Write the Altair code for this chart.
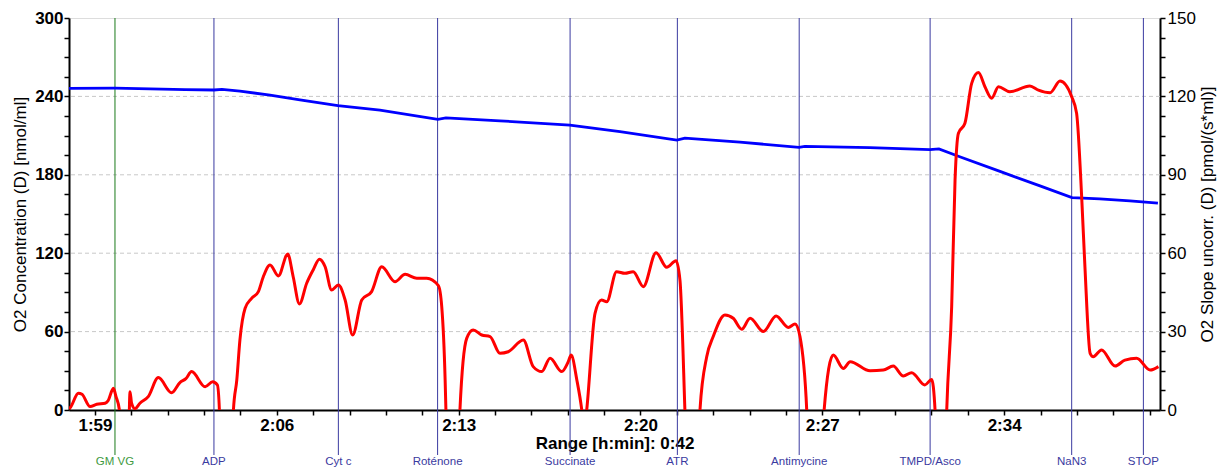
import altair as alt
import pandas as pd

# ---- data ----
o2_time = [118.00, 119.77, 121.12, 122.47, 123.58, 123.89, 124.58, 125.74, 126.89, 128.35,
           129.97, 132.20, 132.51, 134.59, 137.28, 139.21, 141.40, 141.71, 143.83, 146.10,
           146.33, 148.83, 151.14, 151.49, 152.29, 153.84, 155.38, 156.61, 157.68, 158.84, 159.92]
o2_conc = [246.2, 246.3, 245.8, 245.2, 244.9, 245.3, 244.0, 241.0, 237.3, 233.0,
           229.5, 222.5, 223.5, 221.3, 218.0, 213.0, 206.5, 208.0, 205.0, 201.0,
           201.8, 200.8, 199.2, 199.8, 193.8, 182.6, 171.5, 162.5, 161.5, 160.0, 158.3]

slope_time = [118.00, 118.04, 118.36, 118.50, 118.81, 119.07, 119.39, 119.50, 119.71, 119.81,
              119.94, 120.00, 120.27, 120.35, 120.41, 120.54, 120.73, 121.05, 121.44, 121.95,
              122.27, 122.50, 122.72, 123.24, 123.53, 123.71, 123.79, 123.85, 124.24, 124.33,
              124.46, 124.58, 124.78, 125.03, 125.29, 125.48, 125.74, 126.06, 126.42, 126.63,
              126.87, 127.15, 127.40, 127.64, 127.86, 128.11, 128.37, 128.63, 128.92, 129.27,
              129.65, 130.04, 130.55, 130.94, 131.39, 131.77, 132.22, 132.35, 132.48, 132.51,
              132.59, 132.98, 133.05, 133.31, 133.56, 133.89, 134.21, 134.59, 134.91, 135.49,
              135.87, 136.20, 136.52, 136.97, 137.22, 137.33, 137.55, 137.74, 137.83, 137.93,
              138.25, 138.50, 138.70, 139.08, 139.40, 139.72, 140.11, 140.60, 141.01, 141.37,
              141.52, 141.71, 141.79, 142.21, 142.29, 142.55, 142.80, 143.25, 143.57, 143.90,
              144.22, 144.73, 145.22, 145.69, 145.95, 146.14, 146.40, 146.49, 146.95, 147.07,
              147.42, 147.81, 148.07, 148.84, 149.35, 149.73, 150.12, 150.44, 150.95, 151.21,
              151.34, 151.42, 151.72, 151.79, 151.98, 152.11, 152.24, 152.49, 152.75, 153.01,
              153.26, 153.52, 153.78, 154.22, 154.99, 155.32, 155.77, 156.15, 156.60, 156.79,
              156.99, 157.11, 157.31, 157.43, 157.75, 158.27, 158.65, 159.10, 159.62, 159.94]
slope_val = [0.5, 0.8, 6.4, 6.0, 1.3, 2.2, 2.6, 3.5, 8.3, 5.1,
             0.0, -20, -20, 7.0, 2.6, 0.5, 2.6, 5.1, 12.4, 6.6,
             10.5, 12.0, 14.7, 8.9, 10.8, 9.6, 0.0, -25, -25, 0.0,
             11.5, 26.8, 38.9, 42.7, 45.3, 51.0, 55.5, 51.3, 59.7, 51.0,
             40.6, 48.5, 53.6, 57.7, 54.8, 45.9, 47.8, 42.1, 28.7, 42.1,
             45.3, 54.8, 49.1, 51.9, 50.4, 50.4, 47.6, 39.5, 11.5, 0.0,
             -25, -25, 0.0, 27.4, 30.6, 28.7, 28.1, 21.7, 22.3, 26.8,
             16.6, 14.7, 19.8, 14.7, 18.5, 21.0, 11.5, 0.0, -8, 0.0,
             37.0, 42.1, 41.4, 52.9, 52.3, 52.9, 47.2, 60.2, 54.6, 57.1,
             49.7, 0.0, -25, -25, 0.0, 20.4, 28.1, 36.4, 35.1, 30.9,
             35.1, 30.0, 36.0, 31.6, 32.9, 28.1, 0.0, -25, -25, 0.0,
             21.0, 15.9, 18.5, 15.0, 15.3, 16.8, 13.0, 14.3, 9.6, 11.7,
             0.0, -25, -25, 0.0, 39.5, 88.0, 105.9, 109.7, 125.0, 129.1,
             123.7, 119.3, 123.7, 121.8, 124.0, 122.4, 121.4, 125.9, 119.9, 113.5,
             80.4, 54.8, 21.7, 20.4, 23.0, 16.8, 19.1, 19.8, 15.3, 16.6]

event_names = ["GM VG", "ADP", "Cyt c", "Roténone", "Succinate", "ATR",
               "Antimycine", "TMPD/Asco", "NaN3", "STOP"]
event_time = [119.77, 123.58, 128.37, 132.19, 137.29, 141.42, 146.11, 151.15, 156.60, 159.36]

x_domain = [118, 160]
left_domain = [0, 300]
right_domain = [0, 150]
grid_levels = [60, 120, 180, 240]

# ---- tables ----
o2_df = pd.DataFrame({"t": o2_time, "conc": o2_conc})
slope_df = pd.DataFrame({"t": slope_time, "slope": slope_val})
ev_df = pd.DataFrame({"event": event_names, "t": event_time})
grid_df = pd.DataFrame({"g": grid_levels})

FONT = "Liberation Sans"
W, H = 1091, 392

x_ticks = [round(119 + 1.4 * k, 2) for k in range(30) if 119 + 1.4 * k <= 160]
left_ticks = list(range(0, 301, 15))
right_ticks = [7.5 * k for k in range(21)]

xscale = alt.Scale(domain=x_domain, nice=False, zero=False)
lscale = alt.Scale(domain=left_domain, nice=False, zero=False)
rscale = alt.Scale(domain=right_domain, nice=False, zero=False)

x_axis = alt.Axis(
    values=x_ticks,
    labelExpr="abs(datum.value - round(datum.value)) < 0.01 && (round(datum.value) - 119) % 7 == 0 ? floor(round(datum.value)/60) + ':' + (round(datum.value) % 60 < 10 ? '0' : '') + (round(datum.value) % 60) : ''",
    labelFont=FONT, labelFontSize=17, labelFontWeight="bold", labelColor="black",
    labelOverlap=False, labelFlush=False, labelPadding=2, labelBaseline="top",
    labelBound=False,
    tickSize=5, tickWidth=1.5, tickColor="black",
    domainColor="black", domainWidth=2, grid=False,
    title="Range [h:min]: 0:42", titleFont=FONT, titleFontSize=17, titleFontWeight="bold",
    titleColor="black", titleY=33, titleBaseline="middle", titleX=W / 2, titleAnchor="middle",
)

left_axis = alt.Axis(
    orient="left", values=left_ticks,
    labelExpr="datum.value % 60 == 0 ? datum.value : ''",
    labelFont=FONT, labelFontSize=17, labelFontWeight="bold", labelColor="black",
    labelOverlap=False, labelFlush=False, labelPadding=1, labelBound=False,
    tickSize=5, tickWidth=1.5, tickColor="black",
    domainColor="black", domainWidth=2, grid=False,
    title="O2 Concentration  (D) [nmol/ml]", titleFont=FONT, titleFontSize=17,
    titleFontWeight="normal", titleColor="black", titleAngle=-90,
    titleX=-49, titleY=H / 2, titleAlign="center", titleBaseline="middle",
)

right_axis = alt.Axis(
    orient="right", values=right_ticks,
    labelExpr="datum.value % 30 == 0 ? datum.value : ''",
    labelFont=FONT, labelFontSize=17, labelFontWeight="normal", labelColor="black",
    labelOverlap=False, labelFlush=False, labelPadding=2, labelBound=False,
    tickSize=5, tickWidth=1.5, tickColor="black",
    domainColor="black", domainWidth=2, grid=False,
    title="O2 Slope uncorr.  (D) [pmol/(s*ml)]", titleFont=FONT, titleFontSize=17,
    titleFontWeight="normal", titleColor="black", titleAngle=-90,
    titleX=47, titleY=H / 2, titleAlign="center", titleBaseline="middle",
)

X = alt.X("t:Q", scale=xscale, axis=x_axis)

grid = alt.Chart(grid_df).mark_rule(color="#c8c8c8", strokeDash=[4, 3], strokeWidth=1).encode(
    y=alt.Y("g:Q", scale=lscale, axis=left_axis),
)

ev_rules = alt.Chart(ev_df).mark_rule(strokeWidth=1).encode(
    x=X,
    y=alt.value(0),
    y2=alt.value(437),
    color=alt.condition(alt.datum.event == "GM VG", alt.value("#1a7a1a"), alt.value("#3a3aa0")),
)

ev_text = alt.Chart(ev_df).mark_text(font=FONT, fontSize=11.5, baseline="middle", align="center").encode(
    x=X,
    y=alt.value(444),
    text="event:N",
    color=alt.condition(alt.datum.event == "GM VG", alt.value("#3f9a3f"), alt.value("#3a3aa0")),
)

blue = alt.Chart(o2_df).mark_line(color="#0000ff", strokeWidth=2.8).encode(
    x=X,
    y=alt.Y("conc:Q", scale=lscale, axis=left_axis),
)

red = alt.Chart(slope_df).mark_line(color="#ff0000", strokeWidth=3, clip=True,
                                    interpolate="monotone").encode(
    x=X,
    y=alt.Y("slope:Q", scale=rscale, axis=right_axis),
)

left_group = alt.layer(grid, ev_rules, ev_text, blue)

chart = alt.layer(left_group, red).resolve_scale(y="independent").properties(
    width=W, height=H,
    autosize=alt.AutoSizeParams(type="none"),
    padding={"left": 61, "top": 10, "right": 59, "bottom": 60},
).configure_view(stroke="#666666", strokeWidth=1).configure_axis(
    labelOverlap=False
).configure(background="white")

chart.save("out.html", embed_options={"renderer": "svg", "actions": False})
